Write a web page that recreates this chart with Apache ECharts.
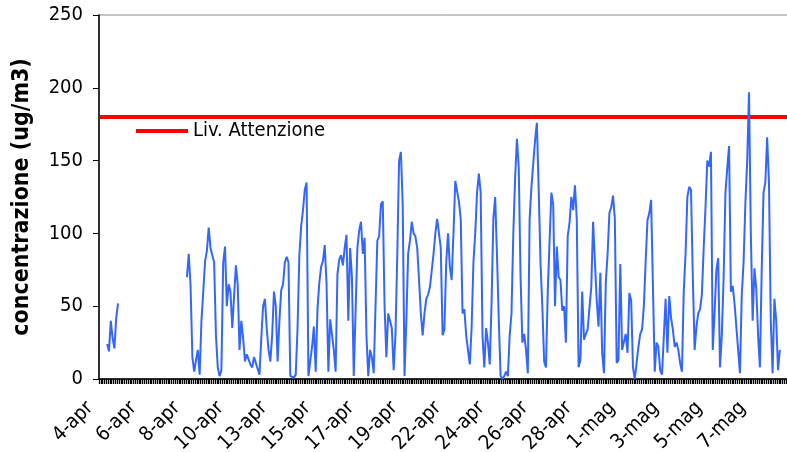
<!DOCTYPE html>
<html>
<head>
<meta charset="utf-8">
<script src="https://cdn.jsdelivr.net/npm/echarts@6/dist/echarts.min.js"></script>
<style>
  html, body { margin: 0; padding: 0; background: #fff; }
  #chart { width: 787px; height: 452px; }
</style>
</head>
<body>
<div id="chart"></div>
<script>
// Date labels shown along the time axis, one every 24 two-hour readings
const tickLabels = ['4-apr', '6-apr', '8-apr', '10-apr', '13-apr', '15-apr', '17-apr', '19-apr',
  '22-apr', '24-apr', '26-apr', '28-apr', '1-mag', '3-mag', '5-mag', '7-mag'];
const slotsPerLabel = 24;

// Measured concentration (ug/m3), two-hour readings; null = no data
const concentrazione = [
  null, null, null, null, 24, 19, 40, 28, 21, 42, 52, null, null, null, null, null, null, null, null, null,
  null, null, null, null, null, null, null, null, null, null, null, null, null, null, null, null, null, null, null, null,
  null, null, null, null, null, null, null, null, 70, 86, 64, 15, 5, 13, 20, 3, 40, 60, 81, 88,
  104, 90, 85, 80, 30, 8, 2, 6, 80, 91, 50, 65, 60, 35, 35, 78, 65, 20, 40, 28,
  12, 17, 18, 10, 8, 15, 11, 10, 3, 28, 50, 55, 35, 20, 12, 30, 60, 50, 12, 40,
  61, 65, 80, 84, 80, 2, 2, 1, 3, 35, 85, 105, 116, 130, 135, 2, 2, 22, 36, 5,
  48, 66, 77, 81, 92, 65, 5, 41, 40, 20, 5, 72, 82, 85, 78, 90, 99, 40, 90, 70,
  2, 2, 90, 102, 108, 86, 97, 30, 2, 20, 15, 4, 4, 95, 98, 120, 122, 50, 15, 45,
  45, 35, 6, 30, 85, 150, 156, 120, 2, 40, 86, 95, 108, 100, 98, 90, 68, 45, 30, 45,
  55, 58, 63, 62, 86, 100, 110, 100, 90, 30, 34, 80, 100, 77, 68, 100, 136, 135, 122, 110,
  45, 48, 30, 31, 10, 35, 80, 100, 128, 141, 128, 30, 8, 35, 25, 10, 52, 110, 125, 85,
  40, 2, 0, 2, 5, 2, 30, 45, 100, 138, 165, 145, 70, 25, 31, 20, 4, 110, 132, 148,
  164, 176, 130, 80, 50, 12, 8, 60, 95, 128, 120, 50, 91, 70, 68, 47, 50, 25, 98, 107,
  125, 116, 133, 110, 8, 13, 60, 27, 31, 34, 49, 63, 108, 108, 54, 36, 73, 18, 4, 66,
  86, 114, 118, 126, 110, 11, 13, 79, 20, 20, 31, 18, 59, 54, 8, 0, 11, 22, 31, 34,
  50, 81, 109, 114, 123, 123, 5, 25, 22, 6, 3, 4, 55, 18, 57, 42, 34, 22, 25, 20,
  11, 5, 60, 86, 125, 132, 130, 70, 20, 36, 45, 48, 58, 90, 118, 150, 146, 156, 20, 45,
  75, 83, 8, 30, 70, 128, 145, 160, 60, 64, 52, 52, 20, 4, 58, 80, 121, 150, 197, 100,
  40, 76, 62, 30, 8, 75, 128, 135, 166, 135, 40, 4, 55, 40, 6, 20, null, null, null, null
];

// Alert threshold (ug/m3)
const livelloAttenzione = 180;

// One category per reading; the date part is what the axis prints
const slotNames = concentrazione.map((_, i) =>
  tickLabels[Math.floor(i / slotsPerLabel)] + ' ' + String((i % slotsPerLabel) * 2).padStart(2, '0') + 'h');
const attenzioneLine = concentrazione.map(() => livelloAttenzione);

const font = "'DejaVu Sans Condensed', 'DejaVu Sans', sans-serif";

const chart = echarts.init(document.getElementById('chart'), null, { renderer: 'canvas' });
chart.setOption({
  animation: false,
  backgroundColor: '#fff',
  grid: {
    left: 99, top: 15, right: -1, bottom: 73,
    containLabel: false, outerBoundsMode: 'none',
    show: true, borderColor: '#888', borderWidth: 1, backgroundColor: 'transparent'
  },
  legend: {
    data: [{ name: 'Liv. Attenzione', icon: 'rect' }],
    left: 131, top: 116,
    itemWidth: 52, itemHeight: 4,
    textStyle: { fontFamily: font, fontSize: 20, color: '#000' }
  },
  xAxis: {
    type: 'category',
    data: slotNames,
    boundaryGap: true,
    axisLine: { lineStyle: { color: '#000', width: 1.5 } },
    axisTick: { show: true, interval: 0, length: 5, lineStyle: { color: '#000', width: 1.3 } },
    axisLabel: {
      show: true,
      interval: slotsPerLabel - 1,
      rotate: 45,
      formatter: v => '{d|' + v.split(' ')[0] + '}',
      fontFamily: font, fontSize: 20, color: '#000',
      margin: 16,
      rich: {
        // right padding keeps the rotated date clear of the tick row
        d: { fontFamily: font, fontSize: 20, color: '#000', padding: [0, 14, 0, 0] }
      }
    },
    splitLine: { show: false }
  },
  yAxis: {
    type: 'value',
    min: 0, max: 250, interval: 50,
    name: 'concentrazione (ug/m3)',
    nameLocation: 'middle',
    nameGap: 65,
    nameTextStyle: { fontFamily: font, fontWeight: 'bold', fontSize: 23, color: '#000' },
    axisLine: { show: true, lineStyle: { color: '#000', width: 1.5 } },
    axisTick: { show: true, length: 6, lineStyle: { color: '#000' } },
    axisLabel: { fontFamily: font, fontSize: 20, color: '#000', margin: 16 },
    splitLine: { show: false }
  },
  series: [
    {
      name: 'Liv. Attenzione', type: 'line', data: attenzioneLine,
      showSymbol: false, silent: true,
      lineStyle: { color: '#ff0000', width: 4 }, itemStyle: { color: '#ff0000' }
    },
    {
      name: 'concentrazione', type: 'line', data: concentrazione,
      showSymbol: false, connectNulls: false,
      lineStyle: { color: '#3366ff', width: 2 }, itemStyle: { color: '#3366ff' }
    }
  ]
});
</script>
</body>
</html>
